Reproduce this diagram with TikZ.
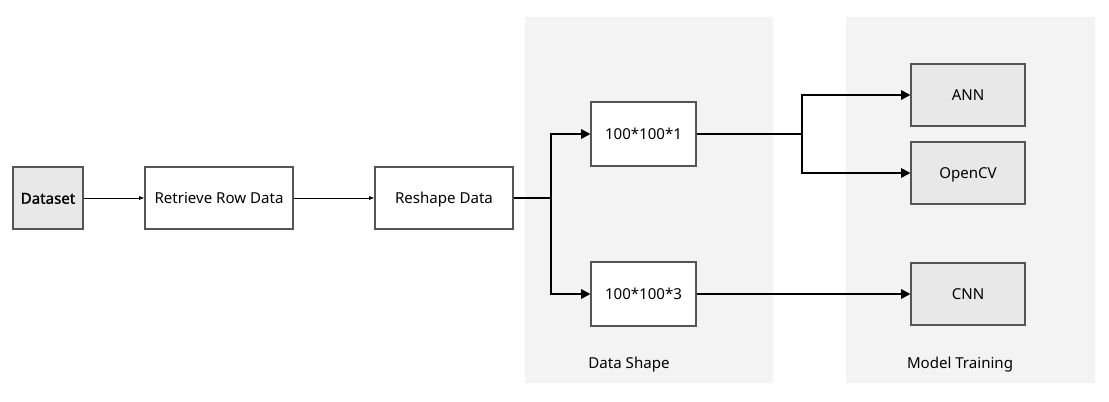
\documentclass[tikz,border=0pt]{standalone}
\usepackage{fontspec}
\setmainfont{Noto Sans}
\usetikzlibrary{arrows.meta}
\definecolor{panelgray}{HTML}{F3F3F3}
\definecolor{boxgray}{HTML}{E8E8E8}
\definecolor{edgegray}{HTML}{555555}
\begin{document}
\begin{tikzpicture}[x=0.75pt, y=-0.75pt, every node/.style={draw=edgegray, line width=0.8pt, minimum height=46.5pt, text height=2ex, text depth=0.4ex, font=\fontsize{11.3}{13}\selectfont}]
	\tikzset{plain/.style={fill=white}, model/.style={fill=boxgray, minimum width=85.5pt},
		thin arrow/.style={line width=0.6pt, -{Latex[length=4pt,width=3pt]}},
		thick line/.style={line width=1.5pt}, thick arrow/.style={line width=1.5pt, -{Triangle[length=7pt,width=7pt]}}}
	\useasboundingbox (0,0) rectangle (1109,401);
	\fill[panelgray] (525,17) rectangle (773,383);
	\fill[panelgray] (846,17) rectangle (1095,383);
	\node[draw=none, minimum height=0pt] (lshape) at (629,363) {Data Shape};
	\node[draw=none, minimum height=0pt] (ltrain) at (960,363) {Model Training};
	\node[fill=boxgray, minimum width=52.5pt, font=\fontsize{11.3}{13}\selectfont\addfontfeatures{FakeBold=1.2}] (data) at (48,198) {Dataset};
	\node[plain, minimum width=111pt] (retrieve) at (219,198) {Retrieve Row Data};
	\node[plain, minimum width=103.5pt] (reshape) at (444,198) {Reshape Data};
	\node[plain, minimum width=78.75pt, minimum height=48pt] (shape1) at (643.5,134) {100*100*1};
	\node[plain, minimum width=78.75pt, minimum height=48pt] (shape3) at (643.5,294) {100*100*3};
	\node[model] (ann) at (968,95) {ANN};
	\node[model] (opencv) at (968,173) {OpenCV};
	\node[model] (cnn) at (968,294) {CNN};
	\coordinate (split) at (551,198);
	\coordinate (fork) at (802,134);
	\draw[thin arrow] (data) -- (retrieve);
	\draw[thin arrow] (retrieve) -- (reshape);
	\draw[thick line] (reshape) -- (split);
	\draw[thick arrow] (split) |- (shape1.west);
	\draw[thick arrow] (split) |- (shape3.west);
	\draw[thick line] (shape1) -- (fork);
	\draw[thick arrow] (fork) |- (ann.west);
	\draw[thick arrow] (fork) |- (opencv.west);
	\draw[thick arrow] (shape3) -- (cnn);
\end{tikzpicture}
\end{document}
